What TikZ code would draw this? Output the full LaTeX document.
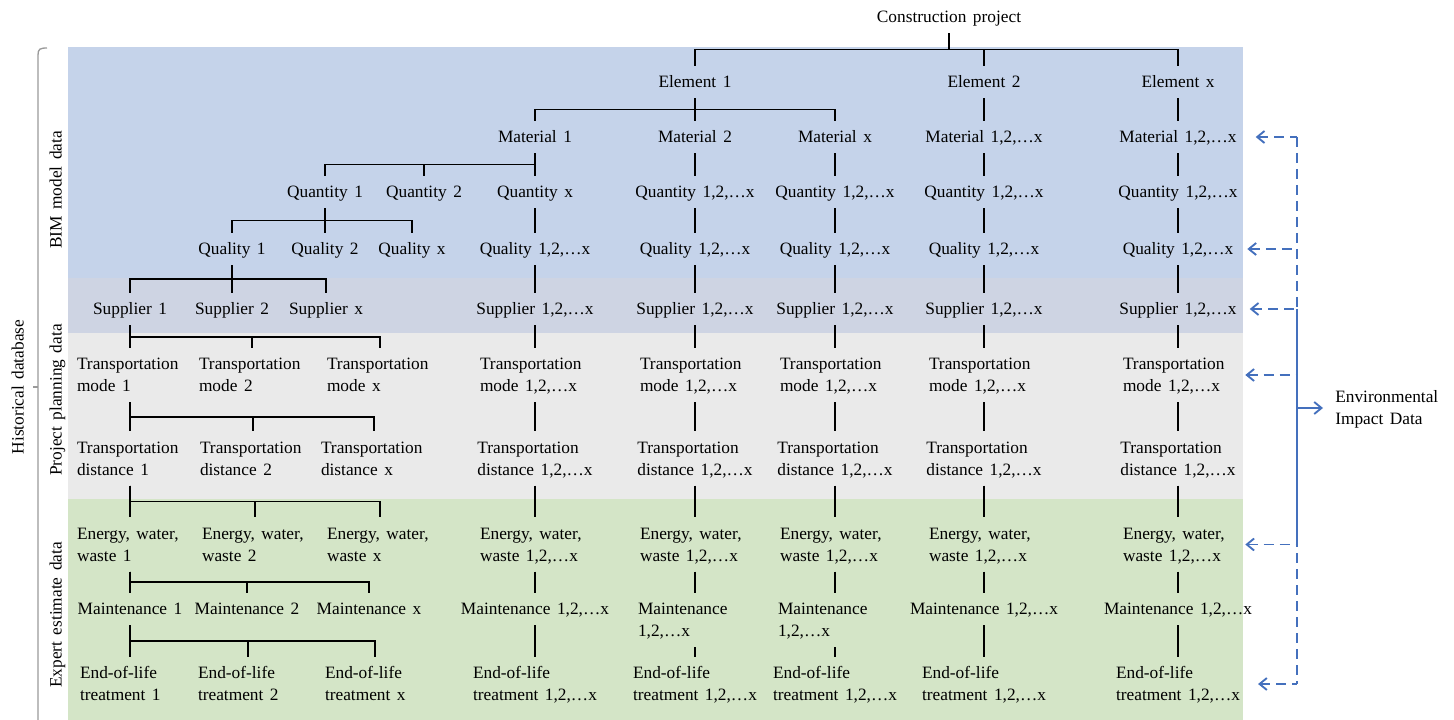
\documentclass[tikz,border=0pt]{standalone}
\usepackage{fontspec}
\setmainfont{Liberation Serif}[WordSpace=1.5]
\usetikzlibrary{calc,arrows.meta}

\definecolor{bimblue}{HTML}{C5D3EA}
\definecolor{supband}{HTML}{CED4E3}
\definecolor{planband}{HTML}{EAEAEA}
\definecolor{expgreen}{HTML}{D4E5C7}
\definecolor{envblue}{HTML}{4470BD}
\definecolor{brkgray}{HTML}{9A9A9A}

% two left-aligned lines, baseline on the last line
\newcommand\twoline[2]{\vbox{\baselineskip=16.2pt\lineskiplimit=-20pt\hbox{#1}\hbox{#2}}}
% same, inside a box of fixed width
\newcommand\twolinew[3]{\hbox to #1{\twoline{#2}{#3}\hss}}
% org-chart connector: down, across at half height, down
\newcommand\branchto[2]{\draw[tree] (#1.south) |- ($(#1.south)!.5!(#2.north)$) -| (#2.north);}

\tikzset{
  lbl/.style={font=\fontsize{13pt}{16.2pt}\selectfont, inner xsep=1pt, inner ysep=4.5pt,
              text height=11.83pt, text depth=3.25pt},
  two/.style={lbl, text height=28.03pt},
  tree/.style={line width=1.4pt, black},
  brk/.style={line width=1pt, brkgray},
  flowd/.style={envblue, line width=1.4pt, dash pattern=on 7.5pt off 4.5pt},
  flows/.style={envblue, line width=1.4pt},
  arr/.style={-{Straight Barb[length=5.5pt,width=9pt]}},
  rarr/.style={{Straight Barb[length=5.5pt,width=9pt]}-}
}

\begin{document}
\begin{tikzpicture}[x=0.75pt,y=-0.75pt]
\useasboundingbox (0,0) rectangle (1454,720);

% data bands
\fill[bimblue]  (68,47)  rectangle (1243,278);
\fill[supband]  (68,278) rectangle (1243,333);
\fill[planband] (68,333) rectangle (1243,499);
\fill[expgreen] (68,499) rectangle (1243,720);

% historical database bracket
\draw[brk] (47,48) .. controls (40,48) and (38,49) .. (38,55) -- (38,720);
\draw[brk] (38,387) -- (33,387);

% side labels
\node[lbl,rotate=90] (hist)   at (18,387) {Historical database};
\node[lbl,rotate=90] (bim)    at (56,190) {BIM model data};
\node[lbl,rotate=90] (plan)   at (56,400) {Project planning data};
\node[lbl,rotate=90] (expert) at (56,615) {Expert estimate data};

% project and elements
\node[lbl] (cp) at (949,17) {Construction project};
\node[lbl] (e1) at (695,82)  {Element 1};
\node[lbl] (e2) at (984,82)  {Element 2};
\node[lbl] (ex) at (1178,82) {Element x};

% materials
\node[lbl] (mA) at (535,137)  {Material 1};
\node[lbl] (mB) at (695,137)  {Material 2};
\node[lbl] (mC) at (835,137)  {Material x};
\node[lbl] (mD) at (984,137)  {Material 1,2,…x};
\node[lbl] (mE) at (1178,137) {Material 1,2,…x};

% quantities
\node[lbl] (q1) at (325,192)  {Quantity 1};
\node[lbl] (q2) at (424,192)  {Quantity 2};
\node[lbl] (qA) at (535,192)  {Quantity x};
\node[lbl] (qB) at (695,192)  {Quantity 1,2,…x};
\node[lbl] (qC) at (835,192)  {Quantity 1,2,…x};
\node[lbl] (qD) at (984,192)  {Quantity 1,2,…x};
\node[lbl] (qE) at (1178,192) {Quantity 1,2,…x};

% expanded branch of the first material
\node[lbl] (l1) at (232,249) {Quality 1};
\node[lbl] (l2) at (325,249) {Quality 2};
\node[lbl] (lx) at (412,249) {Quality x};
\node[lbl] (s1) at (130,309) {Supplier 1};
\node[lbl] (s2) at (232,309) {Supplier 2};
\node[lbl] (sx) at (326,309) {Supplier x};
\node[two] (t1) at (130,375) {\twolinew{79.5pt}{Transportation}{mode 1}};
\node[two] (t2) at (252,375) {\twolinew{79.5pt}{Transportation}{mode 2}};
\node[two] (tx) at (380,375) {\twolinew{79.5pt}{Transportation}{mode x}};
\node[two] (d1) at (130,458.5) {\twolinew{79.5pt}{Transportation}{distance 1}};
\node[two] (d2) at (253,458.5) {\twolinew{79.5pt}{Transportation}{distance 2}};
\node[two] (dx) at (374,458.5) {\twolinew{79.5pt}{Transportation}{distance x}};
\node[two] (g1) at (130,544.5) {\twolinew{79.5pt}{Energy, water,}{waste 1}};
\node[two] (g2) at (255,544.5) {\twolinew{79.5pt}{Energy, water,}{waste 2}};
\node[two] (gx) at (380,544.5) {\twolinew{79.5pt}{Energy, water,}{waste x}};
\node[lbl] (n1) at (130,609) {Maintenance 1};
\node[lbl] (n2) at (247,609) {Maintenance 2};
\node[lbl] (nx) at (369,609) {Maintenance x};
\node[two] (o1) at (130,684) {\twolinew{75pt}{End-of-life}{treatment 1}};
\node[two] (o2) at (248,684) {\twolinew{75pt}{End-of-life}{treatment 2}};
\node[two] (ox) at (375,684) {\twolinew{75pt}{End-of-life}{treatment x}};

% lower levels of every material column
\foreach \col/\x in {A/535,B/695,C/835,D/984,E/1178}{
  \node[lbl] (l\col) at (\x,249) {Quality 1,2,…x};
  \node[lbl] (s\col) at (\x,309) {Supplier 1,2,…x};
  \node[two] (t\col) at (\x,375) {\twolinew{82.5pt}{Transportation}{mode 1,2,…x}};
  \node[two] (d\col) at (\x,458.5) {\twoline{Transportation}{distance 1,2,…x}};
  \node[two] (g\col) at (\x,544.5) {\twolinew{82.5pt}{Energy, water,}{waste 1,2,…x}};
  \node[two] (o\col) at (\x,684) {\twoline{End-of-life}{treatment 1,2,…x}};
}
\node[lbl] (nA) at (535,609)  {Maintenance 1,2,…x};
\node[two] (nB) at (695,620)  {\twolinew{85.5pt}{Maintenance}{1,2,…x}};
\node[two] (nC) at (835,620)  {\twolinew{85.5pt}{Maintenance}{1,2,…x}};
\node[lbl] (nD) at (984,609)  {Maintenance 1,2,…x};
\node[lbl] (nE) at (1178,609) {Maintenance 1,2,…x};

% hierarchy connectors
\branchto{cp}{e1} \branchto{cp}{e2} \branchto{cp}{ex}
\branchto{e1}{mA} \branchto{e1}{mB} \branchto{e1}{mC}
\branchto{e2}{mD} \branchto{ex}{mE}
\branchto{mA}{q1} \branchto{mA}{q2}
\branchto{q1}{l1} \branchto{q1}{l2} \branchto{q1}{lx}
\branchto{l1}{s1} \branchto{l1}{s2} \branchto{l1}{sx}
\branchto{s1}{t1} \branchto{s1}{t2} \branchto{s1}{tx}
\branchto{t1}{d1} \branchto{t1}{d2} \branchto{t1}{dx}
\branchto{d1}{g1} \branchto{d1}{g2} \branchto{d1}{gx}
\branchto{g1}{n1} \branchto{g1}{n2} \branchto{g1}{nx}
\branchto{n1}{o1} \branchto{n1}{o2} \branchto{n1}{ox}
\foreach \col in {A,B,C,D,E}{
  \branchto{m\col}{q\col} \branchto{q\col}{l\col} \branchto{l\col}{s\col}
  \branchto{s\col}{t\col} \branchto{t\col}{d\col} \branchto{d\col}{g\col}
  \branchto{g\col}{n\col} \branchto{n\col}{o\col}
}

% environmental impact data feedback
\coordinate (rail) at (1297,0);
\node[two, anchor=west, inner xsep=0pt] (env) at (1335,408) {\twoline{Environmental}{Impact Data}};
\draw[flowd] (mE -| rail) -- (oE -| rail);
\draw[flows] (sE -| rail) -- (gE -| rail);
\draw[flows,arr] (env -| rail) -- ($(env.west)+(-12,0)$);
\foreach \n/\g in {mE/17.5,lE/12.5,sE/11.5,tE/10.7,gE/10.7,oE/16.5}
  \draw[flowd,rarr] ($(\n.east)+(\g,0)$) -- (\n -| rail);
\end{tikzpicture}
\end{document}
